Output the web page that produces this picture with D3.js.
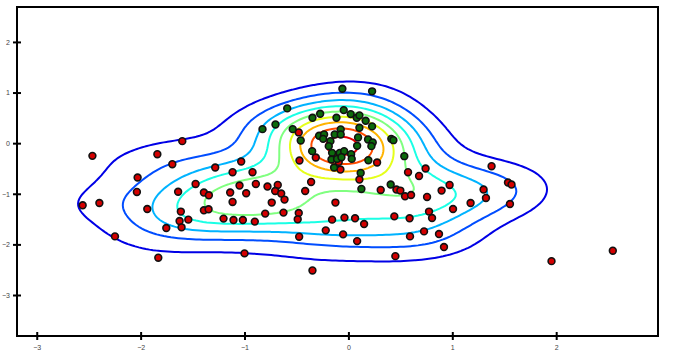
<!DOCTYPE html>
<meta charset="UTF-8">
<svg width="676" height="353"></svg>
<style>
body { margin: 0; background: #fff; }
svg { display: block; font-family: "DejaVu Sans", sans-serif; }
.frame { fill: none; stroke: #000; stroke-width: 2px; }
.level { fill: none; stroke-width: 2px; }
.pt { stroke: #111; stroke-width: 1.6px; }
.tick line { stroke: #000; stroke-width: 2px; }
.tick text { font-size: 7px; }
</style>
<script src="https://d3js.org/d3.v7.min.js"></script>
<script>
// points
var redPts = [
 [-2.464,-0.251],[-1.599,0.040],[-1.839,-0.218],[-1.695,-0.416],[-2.029,-0.679],[-2.036,-0.964],
 [-1.639,-0.960],[-1.471,-0.806],[-1.391,-0.976],[-1.343,-1.030],[-2.397,-1.182],[-2.558,-1.228],
 [-1.936,-1.301],[-1.613,-1.352],[-1.391,-1.327],[-1.346,-1.307],[-1.625,-1.539],[-1.541,-1.511],
 [-1.606,-1.663],[-1.753,-1.677],[-2.247,-1.842],[-1.830,-2.263],[-1.282,-0.481],[-1.032,-0.362],
 [-1.115,-0.574],[-0.923,-0.574],[-0.471,-0.343],[-0.314,-0.283],[-1.048,-0.838],[-0.891,-0.806],
 [-0.779,-0.857],[-0.680,-0.826],[-0.705,-0.945],[-0.647,-0.996],[-0.615,-1.115],[-0.738,-1.174],
 [-1.138,-0.976],[-0.984,-0.990],[-1.115,-1.162],[-1.202,-1.491],[-1.106,-1.519],[-1.016,-1.519],
 [-0.901,-1.550],[-0.801,-1.392],[-0.625,-1.372],[-0.478,-1.380],[-0.488,-1.505],[-0.359,-0.766],
 [-0.416,-0.945],[-0.125,-1.174],[-0.157,-1.511],[-0.218,-1.723],[-0.474,-1.848],[-1.000,-2.178],
 [-0.346,-2.515],[-0.038,-1.471],[0.064,-1.485],[0.151,-1.598],[-0.051,-1.802],[0.084,-1.935],
 [0.452,-2.232],[0.311,-0.925],[0.462,-0.917],[0.500,-0.937],[0.545,-1.050],[0.603,-1.024],
 [0.757,-1.063],[0.574,-0.574],[0.680,-0.648],[0.743,-0.501],[0.897,-0.937],[0.974,-0.826],
 [1.176,-1.182],[1.007,-1.301],[0.776,-1.352],[0.805,-1.479],[0.442,-1.446],[0.589,-1.485],
 [0.728,-1.743],[0.872,-1.796],[0.593,-1.842],[0.920,-2.053],[0.106,-0.719],[0.276,-0.382],
 [1.378,-0.455],[1.536,-0.778],[1.570,-0.818],[1.301,-0.917],[1.324,-1.083],[1.555,-1.202],
 [1.955,-2.331],[2.545,-2.125],[-0.478,0.212],[-0.093,-0.370],[-0.077,-0.521]
];
var greenPts = [
 [-0.058,1.075],[0.228,1.024],[-0.589,0.687],[-0.702,0.370],[-0.827,0.277],[-0.346,0.501],
 [-0.272,0.580],[-0.115,0.501],[-0.045,0.653],[0.022,0.574],[0.080,0.501],[0.106,0.549],
 [0.166,0.442],[0.228,0.331],[-0.536,0.277],[-0.459,0.053],[-0.282,0.145],[-0.234,0.172],
 [-0.243,0.085],[-0.132,0.172],[-0.074,0.271],[-0.074,0.172],[-0.173,0.040],[-0.189,-0.059],
 [0.106,0.303],[0.093,0.113],[0.084,-0.053],[0.189,0.073],[0.234,0.014],[0.221,-0.059],
 [0.413,0.085],[0.433,0.059],[-0.349,-0.158],[-0.157,-0.192],[-0.084,-0.192],[-0.041,-0.158],
 [0.026,-0.218],[-0.163,-0.323],[-0.109,-0.311],[-0.067,-0.277],[0.032,-0.311],[-0.138,-0.481],
 [0.192,-0.337],[0.118,-0.588],[0.538,-0.257],[0.125,-0.905],[0.407,-0.818]
];
var xTicks = [-3, -2, -1, 0, 1, 2];
var yTicks = [-3, -2, -1, 0, 1, 2];
var nLevels = 9;

var svg = d3.select("svg");
var x = d3.scaleLinear().domain([-3.19, 2.98]).range([17, 658]);
var y = d3.scaleLinear().domain([-3.81, 2.69]).range([336, 7]);

// jet colormap
function jet(t) {
	var c = v => Math.round(255 * Math.max(0, Math.min(1, v)));
	return d3.rgb(c(1.5 - Math.abs(4*t - 3)), c(1.5 - Math.abs(4*t - 2)), c(1.5 - Math.abs(4*t - 1))) + "";
}

// gaussian kde, scott bandwidth, full covariance
var all = redPts.concat(greenPts);
var n = all.length;
var mx = d3.mean(all, d => d[0]), my = d3.mean(all, d => d[1]);
var sxx = d3.sum(all, d => (d[0]-mx)*(d[0]-mx)) / (n-1);
var syy = d3.sum(all, d => (d[1]-my)*(d[1]-my)) / (n-1);
var sxy = d3.sum(all, d => (d[0]-mx)*(d[1]-my)) / (n-1);
var f2 = Math.pow(n, -1/3);
var a = sxx*f2, b = sxy*f2, c = syy*f2;
var det = a*c - b*b;
var ia = c/det, ib = -b/det, ic = a/det;
var norm = 1 / (2*Math.PI*Math.sqrt(det)*n);

var nx = 180, ny = 140;
var x0 = -3.19, x1 = 2.98, y0 = -3.81, y1 = 2.69;
var dx = (x1-x0)/(nx-1), dy = (y1-y0)/(ny-1);
var grid = new Array(nx*ny);
for (var j = 0; j < ny; j++) {
	for (var i = 0; i < nx; i++) {
		var gx = x0 + i*dx, gy = y0 + j*dy, s = 0;
		all.forEach(p => {
			var u = gx - p[0], v = gy - p[1];
			s += Math.exp(-0.5*(ia*u*u + 2*ib*u*v + ic*v*v));
		});
		grid[j*nx + i] = s*norm;
	}
}
var maxD = d3.max(grid);
var step = maxD / 9.4;
var thresholds = d3.range(1, nLevels+1).map(k => k*step);

var proj = d3.geoTransform({
	point: function(px, py) {
		this.stream.point(x(x0 + (px-0.5)*dx), y(y0 + (py-0.5)*dy));
	}
});
var path = d3.geoPath(proj);

svg.append("g")
	.selectAll("path")
	.data(d3.contours().size([nx, ny]).thresholds(thresholds)(grid))
	.enter()
	.append("path")
	.attr("class", "level")
	.attr("d", path)
	.attr("stroke", (d, k) => jet((k+1)/10));

svg.append("g")
	.selectAll("circle")
	.data(redPts.map(p => ({p: p, c: "#d40000"})).concat(greenPts.map(p => ({p: p, c: "#0c6a0c"}))))
	.enter()
	.append("circle")
	.attr("class", "pt")
	.attr("cx", d => x(d.p[0]))
	.attr("cy", d => y(d.p[1]))
	.attr("r", 3.4)
	.attr("fill", d => d.c);

var xAxis = svg.append("g")
	.attr("transform", "translate(0,336)")
	.call(d3.axisBottom(x).tickValues(xTicks).tickSize(4).tickSizeOuter(0).tickFormat(d3.format("d")));
xAxis.select(".domain").remove();
xAxis.selectAll(".tick line").attr("y1", -4).attr("y2", 4);
xAxis.selectAll(".tick text").attr("y", 9).attr("dy", "0.71em").attr("fill", "#444");

var yAxis = svg.append("g")
	.attr("transform", "translate(17,0)")
	.call(d3.axisLeft(y).tickValues(yTicks).tickSize(4).tickSizeOuter(0).tickFormat(d3.format("d")));
yAxis.select(".domain").remove();
yAxis.selectAll(".tick line").attr("x1", -4).attr("x2", 4);
yAxis.selectAll(".tick text").attr("x", -7).attr("fill", "#444");

svg.append("rect")
	.attr("class", "frame")
	.attr("x", 17).attr("y", 7)
	.attr("width", 641).attr("height", 329);
</script>
